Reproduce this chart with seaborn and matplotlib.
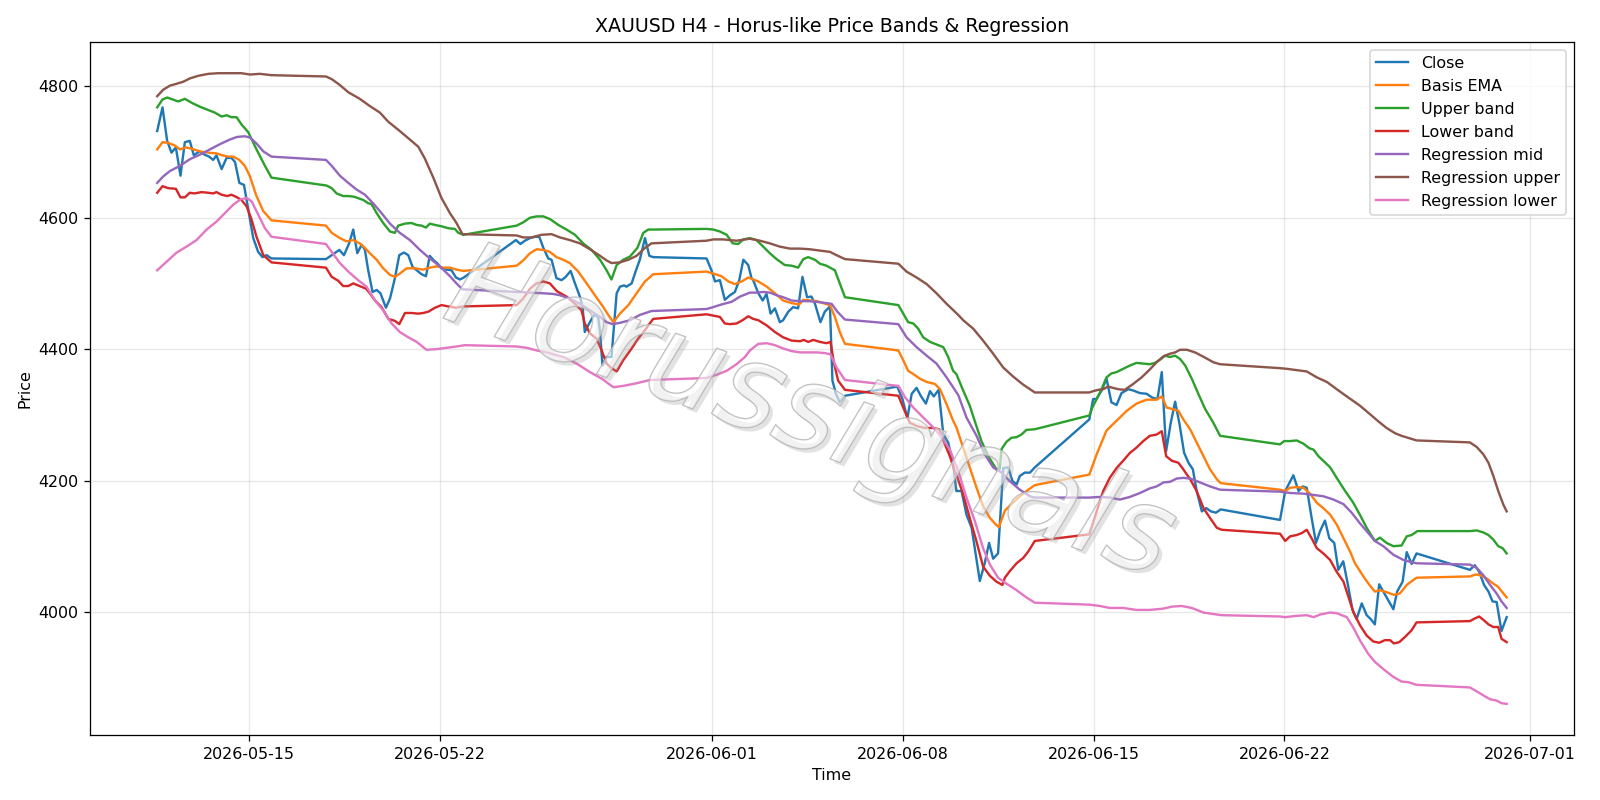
import pandas as pd
import matplotlib
matplotlib.use("Agg")
import matplotlib.pyplot as plt
import matplotlib.patheffects as pe
import seaborn as sns

START = pd.Timestamp("2026-05-11")

# (days since 2026-05-11 00:00, price)
close = [
    (0.625, 4732), (0.82, 4768), (0.99, 4717), (1.15, 4699), (1.31, 4707), (1.48, 4664),
    (1.64, 4715), (1.82, 4717), (1.97, 4695), (2.17, 4701), (2.37, 4696), (2.53, 4693),
    (2.68, 4688), (2.80, 4695), (2.99, 4674), (3.17, 4691), (3.35, 4691), (3.48, 4685),
    (3.64, 4653), (3.81, 4650), (3.97, 4612), (4.15, 4569), (4.33, 4548), (4.49, 4540),
    (4.64, 4543), (4.82, 4538), (6.82, 4537), (7.03, 4543), (7.31, 4551), (7.48, 4543),
    (7.67, 4561), (7.82, 4582), (7.97, 4546), (8.13, 4559), (8.25, 4551), (8.37, 4520),
    (8.53, 4487), (8.68, 4490), (8.82, 4485), (9.02, 4463), (9.17, 4477), (9.35, 4508),
    (9.51, 4543), (9.68, 4547), (9.84, 4543), (10.0, 4525), (10.15, 4520), (10.33, 4514),
    (10.49, 4511), (10.63, 4542), (10.78, 4535), (10.90, 4531), (11.06, 4523), (11.25, 4521),
    (11.43, 4520), (11.59, 4509), (11.74, 4506), (11.88, 4509), (13.79, 4566), (13.96, 4560),
    (14.12, 4565), (14.31, 4569), (14.49, 4571), (14.65, 4571), (14.80, 4554), (14.98, 4538),
    (15.10, 4536), (15.28, 4508), (15.47, 4505), (15.62, 4510), (15.80, 4519), (15.96, 4500),
    (16.14, 4480), (16.24, 4464), (16.32, 4426), (16.48, 4439), (16.66, 4452), (16.81, 4449),
    (16.88, 4426), (16.97, 4375), (17.12, 4388), (17.30, 4388), (17.49, 4485), (17.61, 4495),
    (17.76, 4497), (17.85, 4495), (18.04, 4500), (18.20, 4520), (18.34, 4536), (18.53, 4569),
    (18.69, 4542), (18.83, 4540), (20.79, 4538), (20.97, 4520), (21.10, 4503), (21.28, 4505),
    (21.46, 4475), (21.65, 4482), (21.83, 4487), (21.99, 4505), (22.14, 4536), (22.32, 4528),
    (22.44, 4508), (22.50, 4505), (22.69, 4485), (22.85, 4474), (22.99, 4484), (23.14, 4454),
    (23.30, 4462), (23.48, 4441), (23.60, 4444), (23.79, 4457), (23.97, 4464), (24.15, 4462),
    (24.31, 4510), (24.48, 4479), (24.64, 4480), (24.77, 4469), (24.97, 4441), (25.13, 4457),
    (25.32, 4465), (25.41, 4352), (25.54, 4332), (25.68, 4319), (25.87, 4329), (27.79, 4343),
    (27.98, 4324), (28.16, 4295), (28.32, 4332), (28.50, 4341), (28.65, 4329), (28.84, 4317),
    (28.99, 4336), (29.13, 4328), (29.31, 4338), (29.48, 4270), (29.66, 4258), (29.84, 4224),
    (29.96, 4184), (30.15, 4184), (30.33, 4148), (30.52, 4128), (30.67, 4087), (30.82, 4047),
    (31.00, 4074), (31.16, 4105), (31.31, 4081), (31.49, 4089), (31.68, 4219), (31.86, 4220),
    (32.02, 4199), (32.17, 4194), (32.29, 4207), (32.47, 4212), (32.66, 4212), (32.84, 4220),
    (34.84, 4293), (34.98, 4324), (35.10, 4324), (35.29, 4337), (35.47, 4355), (35.65, 4319),
    (35.84, 4315), (36.02, 4333), (36.27, 4339), (36.45, 4337), (36.70, 4333), (36.94, 4332),
    (37.16, 4326), (37.34, 4324), (37.50, 4365), (37.66, 4245), (37.83, 4288), (37.99, 4320),
    (38.15, 4286), (38.32, 4242), (38.48, 4227), (38.64, 4217), (38.78, 4184), (38.97, 4153),
    (39.13, 4158), (39.30, 4153), (39.49, 4151), (39.66, 4156), (41.84, 4140), (42.03, 4184),
    (42.33, 4208), (42.52, 4184), (42.67, 4191), (42.82, 4189), (43.00, 4143), (43.16, 4105),
    (43.31, 4123), (43.49, 4139), (43.65, 4112), (43.83, 4105), (43.98, 4064), (44.16, 4077),
    (44.31, 4046), (44.50, 4003), (44.65, 3989), (44.84, 4013), (45.02, 3995), (45.17, 3989),
    (45.32, 3981), (45.48, 4042), (45.63, 4031), (45.81, 4018), (46.00, 4004), (46.14, 4031),
    (46.34, 4046), (46.49, 4091), (46.67, 4073), (46.85, 4089), (48.81, 4064), (48.99, 4071),
    (49.15, 4061), (49.33, 4041), (49.49, 4031), (49.64, 4016), (49.79, 4015), (49.97, 3971),
    (50.16, 3992),
]

basis_ema = [
    (0.625, 4704), (0.82, 4715), (1.03, 4714), (1.27, 4710), (1.46, 4704), (1.68, 4707),
    (1.89, 4705), (2.19, 4701), (2.50, 4699), (2.80, 4698), (3.02, 4695), (3.23, 4693),
    (3.42, 4693), (3.64, 4688), (3.84, 4679), (4.03, 4663), (4.25, 4635), (4.52, 4610),
    (4.82, 4596), (6.82, 4588), (7.03, 4577), (7.33, 4569), (7.58, 4564), (7.82, 4566),
    (8.06, 4561), (8.25, 4554), (8.43, 4546), (8.68, 4536), (8.92, 4523), (9.17, 4513),
    (9.35, 4510), (9.53, 4515), (9.78, 4523), (10.08, 4523), (10.39, 4521), (10.63, 4524),
    (10.88, 4526), (11.12, 4524), (11.37, 4524), (11.61, 4521), (11.86, 4519), (13.82, 4527),
    (14.06, 4535), (14.31, 4546), (14.55, 4552), (14.80, 4551), (15.04, 4548), (15.28, 4540),
    (15.53, 4536), (15.77, 4531), (16.08, 4518), (16.39, 4500), (16.69, 4482), (17.00, 4464),
    (17.18, 4452), (17.37, 4441), (17.61, 4454), (17.92, 4467), (18.22, 4485), (18.53, 4503),
    (18.83, 4514), (20.79, 4518), (21.04, 4515), (21.34, 4511), (21.59, 4503), (21.83, 4499),
    (22.08, 4503), (22.32, 4509), (22.50, 4506), (22.69, 4503), (23.00, 4495), (23.30, 4485),
    (23.60, 4474), (23.91, 4470), (24.19, 4468), (24.34, 4475), (24.58, 4474), (24.83, 4473),
    (25.07, 4470), (25.32, 4467), (25.50, 4449), (25.68, 4426), (25.87, 4408), (27.83, 4398),
    (28.01, 4383), (28.19, 4367), (28.38, 4362), (28.62, 4355), (28.87, 4350), (29.17, 4347),
    (29.36, 4339), (29.60, 4316), (29.84, 4291), (29.96, 4281), (30.21, 4250), (30.45, 4220),
    (30.70, 4189), (30.94, 4161), (31.19, 4143), (31.43, 4132), (31.52, 4129), (31.74, 4154),
    (31.98, 4164), (32.29, 4176), (32.60, 4186), (32.84, 4193), (34.84, 4209), (35.11, 4240),
    (35.47, 4276), (35.84, 4291), (36.21, 4306), (36.57, 4317), (36.94, 4323), (37.31, 4323),
    (37.50, 4328), (37.68, 4311), (37.87, 4309), (38.11, 4306), (38.29, 4293), (38.54, 4278),
    (38.78, 4258), (39.03, 4237), (39.27, 4217), (39.52, 4202), (39.66, 4196), (41.84, 4186),
    (42.03, 4184), (42.21, 4189), (42.45, 4190), (42.70, 4189), (42.94, 4180), (43.19, 4166),
    (43.43, 4158), (43.68, 4148), (43.92, 4133), (44.17, 4112), (44.41, 4092), (44.59, 4074),
    (44.90, 4054), (45.14, 4040), (45.32, 4031), (45.51, 4033), (45.75, 4030), (46.02, 4026),
    (46.24, 4028), (46.49, 4041), (46.85, 4052), (48.81, 4054), (49.03, 4057), (49.18, 4056),
    (49.42, 4051), (49.67, 4043), (49.85, 4038), (50.04, 4028), (50.16, 4022),
]

upper_band = [
    (0.625, 4768), (0.82, 4780), (0.99, 4783), (1.20, 4780), (1.40, 4777), (1.64, 4781),
    (1.89, 4775), (2.19, 4769), (2.50, 4764), (2.74, 4760), (2.99, 4754), (3.17, 4756),
    (3.35, 4753), (3.54, 4753), (3.72, 4742), (3.97, 4730), (4.27, 4704), (4.58, 4679),
    (4.82, 4661), (6.84, 4649), (7.03, 4645), (7.21, 4637), (7.45, 4633), (7.64, 4633),
    (7.85, 4632), (8.19, 4627), (8.37, 4622), (8.49, 4621), (8.68, 4607), (8.92, 4592),
    (9.17, 4579), (9.35, 4577), (9.47, 4588), (9.72, 4591), (9.96, 4592), (10.15, 4589),
    (10.33, 4588), (10.49, 4585), (10.63, 4591), (10.82, 4589), (11.06, 4587), (11.31, 4584),
    (11.55, 4583), (11.68, 4577), (11.86, 4574), (13.82, 4588), (14.06, 4593), (14.31, 4600),
    (14.55, 4602), (14.80, 4602), (15.04, 4598), (15.35, 4589), (15.65, 4582), (15.96, 4574),
    (16.26, 4561), (16.57, 4551), (16.88, 4536), (17.12, 4520), (17.30, 4506), (17.49, 4528),
    (17.73, 4536), (17.98, 4541), (18.25, 4554), (18.47, 4577), (18.65, 4582), (18.83, 4582),
    (20.79, 4583), (21.04, 4582), (21.28, 4579), (21.53, 4574), (21.75, 4561), (21.95, 4560),
    (22.14, 4567), (22.38, 4569), (22.62, 4566), (22.87, 4556), (23.11, 4546), (23.36, 4537),
    (23.66, 4528), (23.91, 4527), (24.15, 4524), (24.34, 4537), (24.52, 4540), (24.77, 4536),
    (24.95, 4530), (25.19, 4527), (25.50, 4520), (25.68, 4500), (25.87, 4479), (27.83, 4467),
    (28.01, 4454), (28.19, 4441), (28.38, 4439), (28.56, 4431), (28.74, 4418), (28.99, 4411),
    (29.29, 4406), (29.48, 4403), (29.66, 4388), (29.84, 4367), (29.96, 4362), (30.21, 4337),
    (30.45, 4314), (30.67, 4286), (30.88, 4260), (31.13, 4237), (31.43, 4217), (31.55, 4217),
    (31.62, 4248), (31.80, 4259), (31.98, 4265), (32.17, 4266), (32.35, 4270), (32.53, 4277),
    (32.84, 4278), (34.84, 4299), (34.96, 4312), (35.11, 4324), (35.29, 4339), (35.47, 4357),
    (35.65, 4363), (35.84, 4365), (36.08, 4370), (36.33, 4375), (36.57, 4379), (36.82, 4378),
    (37.06, 4377), (37.25, 4379), (37.44, 4384), (37.62, 4390), (37.80, 4388), (37.99, 4390),
    (38.17, 4385), (38.36, 4375), (38.60, 4355), (38.84, 4332), (39.09, 4309), (39.39, 4288),
    (39.64, 4268), (41.84, 4255), (41.99, 4260), (42.21, 4260), (42.45, 4261), (42.70, 4256),
    (42.92, 4249), (43.07, 4247), (43.25, 4237), (43.43, 4230), (43.68, 4220), (43.92, 4204),
    (44.23, 4184), (44.53, 4166), (44.77, 4148), (45.02, 4128), (45.32, 4108), (45.51, 4113),
    (45.75, 4105), (46.00, 4100), (46.30, 4101), (46.49, 4115), (46.67, 4117), (46.88, 4123),
    (48.81, 4123), (49.06, 4124), (49.30, 4121), (49.49, 4117), (49.67, 4110), (49.85, 4100),
    (50.01, 4097), (50.16, 4089),
]

lower_band = [
    (0.625, 4638), (0.82, 4648), (1.03, 4645), (1.31, 4644), (1.48, 4631), (1.64, 4631),
    (1.82, 4638), (2.00, 4637), (2.25, 4639), (2.50, 4638), (2.68, 4637), (2.80, 4639),
    (2.99, 4635), (3.20, 4633), (3.35, 4635), (3.51, 4632), (3.72, 4627), (3.91, 4617),
    (4.09, 4597), (4.27, 4571), (4.52, 4543), (4.82, 4532), (6.82, 4524), (7.03, 4510),
    (7.27, 4504), (7.45, 4496), (7.64, 4496), (7.82, 4500), (8.06, 4496), (8.29, 4492),
    (8.43, 4485), (8.62, 4474), (8.86, 4464), (9.11, 4446), (9.35, 4443), (9.51, 4438),
    (9.72, 4455), (9.96, 4455), (10.21, 4454), (10.39, 4455), (10.58, 4457), (10.82, 4463),
    (11.06, 4467), (11.31, 4465), (11.59, 4463), (11.86, 4465), (13.82, 4467), (14.06, 4477),
    (14.31, 4492), (14.55, 4500), (14.80, 4503), (15.04, 4500), (15.30, 4488), (15.65, 4480),
    (15.96, 4469), (16.20, 4459), (16.32, 4439), (16.51, 4424), (16.75, 4416), (16.94, 4398),
    (17.12, 4378), (17.30, 4371), (17.49, 4366), (17.73, 4383), (18.04, 4401), (18.28, 4416),
    (18.53, 4429), (18.83, 4446), (20.79, 4453), (21.04, 4451), (21.28, 4449), (21.46, 4439),
    (21.65, 4438), (21.89, 4439), (22.11, 4444), (22.32, 4450), (22.50, 4446), (22.69, 4444),
    (23.00, 4436), (23.30, 4426), (23.60, 4418), (23.91, 4413), (24.22, 4412), (24.36, 4414),
    (24.52, 4411), (24.71, 4414), (24.95, 4411), (25.19, 4409), (25.34, 4411), (25.46, 4380),
    (25.62, 4352), (25.87, 4338), (27.83, 4329), (28.01, 4311), (28.25, 4288), (28.50, 4283),
    (28.80, 4280), (29.09, 4280), (29.33, 4278), (29.54, 4255), (29.72, 4237), (29.90, 4214),
    (29.96, 4209), (30.21, 4179), (30.45, 4143), (30.70, 4107), (30.94, 4069), (31.19, 4055),
    (31.43, 4046), (31.65, 4041), (31.74, 4052), (31.92, 4062), (32.17, 4074), (32.41, 4082),
    (32.60, 4092), (32.84, 4108), (34.84, 4118), (35.11, 4153), (35.35, 4184), (35.59, 4204),
    (35.84, 4219), (36.08, 4230), (36.33, 4242), (36.57, 4250), (36.82, 4260), (37.06, 4268),
    (37.31, 4270), (37.50, 4275), (37.66, 4237), (37.87, 4230), (38.11, 4227), (38.29, 4217),
    (38.54, 4202), (38.78, 4184), (39.03, 4158), (39.27, 4143), (39.52, 4128), (39.70, 4125),
    (41.84, 4119), (42.03, 4108), (42.21, 4115), (42.45, 4117), (42.64, 4120), (42.82, 4125),
    (43.00, 4112), (43.19, 4097), (43.43, 4089), (43.68, 4079), (43.92, 4061), (44.17, 4046),
    (44.28, 4032), (44.53, 4000), (44.77, 3980), (45.02, 3964), (45.26, 3955), (45.48, 3953),
    (45.69, 3957), (45.88, 3957), (46.02, 3952), (46.22, 3954), (46.43, 3962), (46.67, 3972),
    (46.85, 3984), (48.81, 3986), (48.99, 3990), (49.15, 3993), (49.33, 3987), (49.49, 3981),
    (49.67, 3977), (49.85, 3977), (49.97, 3959), (50.16, 3954),
]

regression_mid = [
    (0.625, 4653), (0.85, 4663), (1.09, 4671), (1.46, 4679), (1.82, 4689), (2.19, 4696),
    (2.56, 4704), (2.93, 4712), (3.29, 4719), (3.56, 4723), (3.84, 4724), (4.03, 4722),
    (4.27, 4713), (4.52, 4701), (4.82, 4693), (6.82, 4688), (7.03, 4679), (7.33, 4664),
    (7.64, 4653), (7.94, 4643), (8.25, 4635), (8.55, 4622), (8.86, 4607), (9.17, 4591),
    (9.53, 4577), (9.90, 4566), (10.27, 4551), (10.63, 4538), (11.00, 4526), (11.37, 4511),
    (11.61, 4500), (11.83, 4491), (13.82, 4487), (14.31, 4486), (14.80, 4485), (15.16, 4484),
    (15.41, 4482), (15.77, 4477), (16.14, 4469), (16.51, 4459), (16.88, 4449), (17.12, 4441),
    (17.34, 4438), (17.61, 4440), (17.98, 4444), (18.34, 4452), (18.77, 4458), (20.79, 4461),
    (21.04, 4464), (21.34, 4468), (21.71, 4472), (22.02, 4480), (22.38, 4486), (22.62, 4486),
    (22.87, 4487), (23.11, 4486), (23.36, 4482), (23.60, 4479), (23.91, 4474), (24.22, 4473),
    (24.52, 4473), (24.83, 4472), (25.19, 4470), (25.38, 4469), (25.59, 4457), (25.87, 4445),
    (27.83, 4438), (28.13, 4418), (28.50, 4403), (28.87, 4390), (29.23, 4378), (29.60, 4357),
    (30.03, 4330), (30.33, 4296), (30.70, 4268), (31.00, 4240), (31.31, 4220), (31.62, 4212),
    (31.92, 4199), (32.29, 4186), (32.66, 4176), (32.84, 4174), (34.84, 4174), (35.23, 4175),
    (35.59, 4174), (35.96, 4171), (36.33, 4175), (36.70, 4181), (37.06, 4188), (37.31, 4191),
    (37.56, 4197), (37.80, 4198), (38.05, 4203), (38.29, 4204), (38.54, 4203), (38.91, 4197),
    (39.27, 4191), (39.64, 4186), (41.84, 4183), (42.21, 4181), (42.70, 4180), (43.07, 4178),
    (43.43, 4176), (43.80, 4171), (44.17, 4164), (44.47, 4151), (44.77, 4135), (45.08, 4120),
    (45.32, 4108), (45.63, 4100), (46.00, 4087), (46.37, 4079), (46.73, 4075), (46.85, 4074),
    (48.81, 4072), (49.06, 4067), (49.30, 4056), (49.55, 4041), (49.79, 4028), (49.97, 4016),
    (50.16, 4006),
]

regression_upper = [
    (0.625, 4785), (0.85, 4795), (1.09, 4801), (1.34, 4804), (1.58, 4807), (1.82, 4812),
    (2.13, 4816), (2.50, 4819), (2.87, 4820), (3.29, 4820), (3.72, 4820), (4.03, 4818),
    (4.39, 4819), (4.82, 4817), (6.82, 4815), (7.03, 4811), (7.33, 4802), (7.64, 4791),
    (8.06, 4781), (8.43, 4770), (8.80, 4760), (9.11, 4746), (9.47, 4734), (9.90, 4719),
    (10.21, 4708), (10.45, 4690), (10.76, 4661), (11.06, 4630), (11.37, 4607), (11.61, 4592),
    (11.83, 4575), (13.82, 4573), (14.06, 4570), (14.37, 4570), (14.73, 4574), (15.10, 4575),
    (15.41, 4570), (15.77, 4566), (16.14, 4561), (16.51, 4552), (16.88, 4542), (17.12, 4535),
    (17.30, 4531), (17.61, 4532), (17.92, 4536), (18.22, 4542), (18.53, 4554), (18.77, 4561),
    (20.79, 4565), (21.04, 4567), (21.40, 4567), (21.89, 4565), (22.38, 4568), (22.75, 4565),
    (23.11, 4561), (23.48, 4556), (23.85, 4553), (24.22, 4553), (24.58, 4552), (24.95, 4550),
    (25.32, 4548), (25.56, 4543), (25.87, 4537), (27.83, 4530), (28.13, 4518), (28.50, 4509),
    (28.87, 4499), (29.23, 4485), (29.60, 4469), (30.03, 4452), (30.21, 4444), (30.58, 4431),
    (30.94, 4413), (31.31, 4393), (31.68, 4372), (32.05, 4358), (32.41, 4346), (32.84, 4334),
    (34.84, 4334), (34.98, 4336), (35.17, 4338), (35.35, 4339), (35.53, 4343), (35.71, 4341),
    (35.90, 4339), (36.14, 4338), (36.45, 4347), (36.76, 4357), (37.06, 4369), (37.31, 4380),
    (37.56, 4389), (37.80, 4393), (37.99, 4395), (38.17, 4399), (38.42, 4399), (38.72, 4395),
    (39.09, 4387), (39.39, 4380), (39.64, 4377), (41.84, 4371), (42.09, 4370), (42.45, 4368),
    (42.82, 4366), (43.19, 4357), (43.56, 4350), (43.92, 4339), (44.29, 4328), (44.77, 4314),
    (45.14, 4301), (45.45, 4290), (45.75, 4280), (46.06, 4272), (46.30, 4268), (46.85, 4261),
    (48.81, 4258), (49.06, 4251), (49.30, 4240), (49.49, 4227), (49.67, 4207), (49.85, 4184),
    (50.04, 4163), (50.16, 4153),
]

regression_lower = [
    (0.625, 4520), (0.97, 4533), (1.34, 4547), (1.70, 4556), (2.07, 4566), (2.44, 4582),
    (2.80, 4594), (3.11, 4607), (3.42, 4620), (3.69, 4628), (3.91, 4630), (4.09, 4625),
    (4.27, 4610), (4.58, 4584), (4.82, 4571), (6.82, 4560), (7.03, 4548), (7.33, 4531),
    (7.64, 4518), (8.00, 4505), (8.31, 4495), (8.62, 4474), (8.92, 4459), (9.23, 4439),
    (9.53, 4426), (9.84, 4418), (10.15, 4411), (10.51, 4399), (10.88, 4400), (11.25, 4402),
    (11.61, 4404), (11.92, 4406), (13.82, 4404), (14.19, 4402), (14.55, 4398), (14.92, 4395),
    (15.53, 4388), (16.02, 4378), (16.51, 4365), (16.94, 4355), (17.37, 4342), (17.73, 4344),
    (18.22, 4348), (18.71, 4353), (20.79, 4356), (21.16, 4361), (21.53, 4367), (21.89, 4377),
    (22.20, 4388), (22.38, 4398), (22.69, 4408), (23.00, 4409), (23.30, 4406), (23.60, 4401),
    (23.91, 4397), (24.22, 4395), (24.52, 4395), (24.83, 4395), (25.13, 4394), (25.34, 4392),
    (25.56, 4372), (25.87, 4353), (27.83, 4344), (28.07, 4327), (28.38, 4311), (28.74, 4296),
    (29.11, 4281), (29.42, 4266), (29.72, 4247), (30.03, 4214), (30.33, 4174), (30.64, 4138),
    (30.94, 4097), (31.19, 4072), (31.49, 4052), (31.80, 4043), (32.17, 4033), (32.53, 4022),
    (32.84, 4014), (34.84, 4011), (35.23, 4009), (35.59, 4006), (36.08, 4006), (36.57, 4003),
    (37.06, 4003), (37.31, 4004), (37.56, 4005), (37.87, 4008), (38.23, 4009), (38.60, 4006),
    (39.03, 3999), (39.52, 3996), (39.70, 3995), (41.84, 3993), (42.03, 3992), (42.45, 3994),
    (42.82, 3995), (43.07, 3992), (43.31, 3996), (43.68, 3999), (43.92, 3998), (44.29, 3992),
    (44.53, 3976), (44.77, 3957), (45.08, 3936), (45.32, 3924), (45.63, 3913), (46.00, 3901),
    (46.30, 3894), (46.55, 3893), (46.85, 3889), (48.81, 3885), (49.06, 3879), (49.30, 3873),
    (49.55, 3867), (49.79, 3865), (49.97, 3861), (50.16, 3860),
]

series_names = ["Close", "Basis EMA", "Upper band", "Lower band",
                "Regression mid", "Regression upper", "Regression lower"]
series_data = [close, basis_ema, upper_band, lower_band,
               regression_mid, regression_upper, regression_lower]
series_colors = ["#1f77b4", "#ff7f0e", "#2ca02c", "#d62728",
                 "#9467bd", "#8c564b", "#e377c2"]

DPI = 1600 / 14
fig, ax = plt.subplots(figsize=(14, 7), dpi=DPI)

for name, pts, col in zip(series_names, series_data, series_colors):
    days, vals = zip(*pts)
    df = pd.DataFrame({
        "Time": START + pd.to_timedelta(list(days), unit="D"),
        "Price": list(vals),
    })
    sns.lineplot(data=df, x="Time", y="Price", ax=ax, color=col, label=name,
                 linewidth=1.5, estimator=None, sort=True)

ax.set_title("XAUUSD H4 - Horus-like Price Bands & Regression", fontsize=12)
ax.set_xlabel("Time")
ax.set_ylabel("Price")
ax.grid(True, alpha=0.3)
ax.legend(loc="upper right")

ax.text(0.485, 0.46, "Horussignals", transform=ax.transAxes, fontsize=75,
        style="italic", rotation=-20, ha="center", va="center",
        color=(1, 1, 1, 0.35), zorder=10,
        path_effects=[pe.SimplePatchShadow(offset=(2.5, -2.5), shadow_rgbFace="#9a9a9a", alpha=0.28),
                      pe.Stroke(linewidth=0.9, foreground=(0.68, 0.68, 0.68, 0.85)),
                      pe.Normal()])

fig.tight_layout()
fig.savefig("out.png", dpi=DPI)
